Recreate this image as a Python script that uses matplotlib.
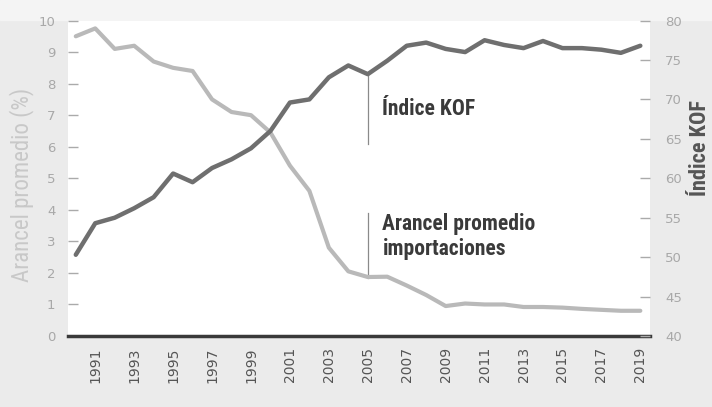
import matplotlib.pyplot as plt
import numpy as np

# datos
years = list(range(1990, 2020))
arancel = [9.5, 9.75, 9.1, 9.2, 8.7, 8.5, 8.4, 7.5, 7.1, 7.0,
           6.45, 5.4, 4.6, 2.8, 2.05, 1.87, 1.88, 1.6, 1.3, 0.95,
           1.03, 1.0, 1.0, 0.92, 0.92, 0.9, 0.86, 0.83, 0.8, 0.8]
kof = [50.3, 54.3, 55.0, 56.2, 57.6, 60.6, 59.5, 61.3, 62.4, 63.8,
       66.0, 69.6, 70.0, 72.8, 74.3, 73.2, 74.9, 76.8, 77.2, 76.4,
       76.0, 77.5, 76.9, 76.5, 77.4, 76.5, 76.5, 76.3, 75.9, 76.8]
year_ticks = list(range(1991, 2020, 2))
left_ticks = list(range(0, 11))
right_ticks = list(range(40, 81, 5))

narrow = ['Roboto Condensed', 'DejaVu Sans']

fig = plt.figure(figsize=(7.12, 4.07), dpi=100, facecolor='#ebebeb')
# franja superior mas clara
fig.patches.append(plt.Rectangle((0, 0.95), 1, 0.05, transform=fig.transFigure,
                                 color='#f4f4f4', zorder=-1))
ax1 = fig.add_axes([0.0955, 0.1744, 0.8175, 0.7752])
ax1.set_facecolor('white')
ax2 = ax1.twinx()

ax1.plot(years, arancel, color='#b9b9b9', lw=3, solid_capstyle='round', zorder=3)
ax2.plot(years, kof, color='#6f6f6f', lw=3.2, solid_capstyle='round', zorder=3)

ax1.set_xlim(1989.6, 2019.5)
ax1.set_ylim(0, 10)
ax2.set_ylim(40, 80)

for s in ['top', 'left', 'right']:
    ax1.spines[s].set_visible(False)
    ax2.spines[s].set_visible(False)
ax2.spines['bottom'].set_visible(False)
ax1.spines['bottom'].set_color('#3a3a3a')
ax1.spines['bottom'].set_linewidth(2.5)

ax1.set_xticks(year_ticks)
ax1.set_xticklabels([str(y) for y in year_ticks], rotation=90, fontsize=10,
                    color='#555555')
ax1.tick_params(axis='x', length=0, pad=8)

ax1.set_yticks(left_ticks)
ax1.set_yticklabels([str(v) for v in left_ticks], fontsize=9.5, color='#a8a8a8')
ax1.tick_params(axis='y', direction='in', length=7, width=1, color='#aaaaaa', pad=9)

ax2.set_yticks(right_ticks)
ax2.set_yticklabels([str(v) for v in right_ticks], fontsize=9.5, color='#a8a8a8')
ax2.tick_params(axis='y', direction='in', length=7, width=1, color='#aaaaaa', pad=11)

fig.text(22 / 712, 1 - 185 / 407, 'Arancel promedio (%)', fontsize=16.5,
         color='#c8c8c8', rotation=90, ha='center', va='center', family=narrow)
fig.text(700 / 712, 1 - 148 / 407, 'Índice KOF', fontsize=16, color='#555555',
         fontweight='bold', rotation=90, ha='center', va='center', family=narrow)

# anotaciones
ax1.plot([2005, 2005], [8.3, 6.1], color='#8a8a8a', lw=0.9)
ax1.text(2005.75, 7.2, 'Índice KOF', fontsize=15.5, fontweight='bold',
         color='#3a3a3a', va='center', ha='left', family=narrow)
ax1.plot([2005, 2005], [3.9, 1.85], color='#8a8a8a', lw=0.9)
ax1.text(2005.75, 3.16, 'Arancel promedio\nimportaciones', fontsize=15.5,
         fontweight='bold', color='#3a3a3a', va='center', ha='left',
         linespacing=1.15, family=narrow)

fig.savefig('out.png', dpi=100, facecolor=fig.get_facecolor())
